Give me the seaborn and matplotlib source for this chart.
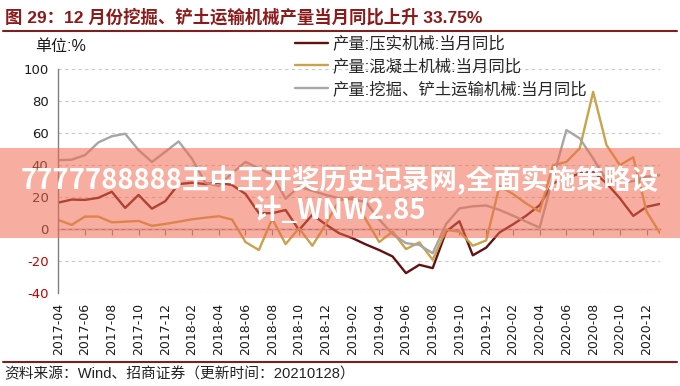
import numpy as np
import pandas as pd
import matplotlib
matplotlib.use("Agg")
import matplotlib.pyplot as plt
from matplotlib.patches import Rectangle
from matplotlib.lines import Line2D
import seaborn as sns

# ---------------- data ----------------
series_names = ["产量:压实机械:当月同比", "产量:混凝土机械:当月同比", "产量:挖掘、铲土运输机械:当月同比"]

compaction = [16.6, 18.5, 18.3, 19.6, 23.4, 13.3, 21.4, 12.8, 17.5, 28.2,
              29.0, 28.2, 29.0, 27.6, 22.0, 10.0, 10.0, 12.0, -0.5, 9.0,
              3.0, -2.5, -5.6, -9.5, -13.0, -17.0, -27.4, -22.2, -24.3, -1.5,
              5.0, -16.3, -11.5, -2.0, 3.0, 8.5, 15.0, 28.7, 31.7, 34.9,
              35.9, 28.7, 19.3, 8.3, 14.0, 15.8]

concrete = [5.8, 2.7, 7.9, 7.9, 4.3, 4.7, 5.2, 2.1, 3.3, 4.7,
            6.2, 7.2, 8.1, 6.0, -8.0, -13.0, 6.5, -9.3, 0.6, -10.3,
            3.0, 18.0, 20.0, 6.0, -8.0, -1.5, -12.4, -8.2, -19.1, -0.4,
            -1.5, -10.3, -7.0, 27.0, 22.0, 16.0, 11.0, 40.0, 42.0, 50.5,
            85.7, 52.5, 40.0, 44.9, 11.0, -2.5]

excavator = [43.1, 43.4, 46.3, 54.2, 58.0, 59.6, 49.4, 42.0, 48.3, 54.8,
             44.0, 29.0, 27.0, 35.0, 42.0, 38.0, 34.0, 19.0, 26.5, 24.0,
             21.4, 19.3, 18.7, 17.0, 6.0, -3.0, -8.7, -9.8, -15.0, 3.2,
             13.0, 14.3, 14.8, 12.0, 8.5, 4.7, 1.0, 32.0, 61.9, 56.7,
             44.2, 30.7, 29.0, 30.0, 32.8, 33.75]

tick_labels = ["2017-04", "2017-06", "2017-08", "2017-10", "2017-12",
               "2018-02", "2018-04", "2018-06", "2018-08", "2018-10", "2018-12",
               "2019-02", "2019-04", "2019-06", "2019-08", "2019-10", "2019-12",
               "2020-02", "2020-04", "2020-06", "2020-08", "2020-10", "2020-12"]

y_ticks = [-40, -20, 0, 20, 40, 60, 80, 100]

title_text = "图 29：12 月份挖掘、铲土运输机械产量当月同比上升 33.75%"
source_text = "资料来源：Wind、招商证券（更新时间：20210128）"
unit_text = "单位:%"
watermark_1 = "7777788888王中王开奖历史记录网,全面实施策略设"
watermark_2 = "计_WNW2.85"

colors = {series_names[0]: "#631010",
          series_names[1]: "#C9A24C",
          series_names[2]: "#A6A6A6"}

# ---------------- frame ----------------
rows = []
for name, vals in zip(series_names, [compaction, concrete, excavator]):
    for i, v in enumerate(vals):
        rows.append({"idx": i, "value": v, "series": name})
df = pd.DataFrame(rows)

sns.set_style("white")
plt.rcParams["font.family"] = ["DejaVu Sans", "Noto Sans CJK SC"]
CJK = ["Liberation Sans", "Noto Sans CJK SC"]

W, H = 680, 386
fig = plt.figure(figsize=(W / 100, H / 100), dpi=100)
left, right, top, bottom = 58.3, 660.0, 69.0, 293.3
ax = fig.add_axes([left / W, 1 - bottom / H, (right - left) / W, (bottom - top) / H])

sns.lineplot(data=df, x="idx", y="value", hue="series", hue_order=series_names,
             palette=colors, linewidth=1.7, ax=ax, legend=True, sort=False)

n = len(compaction)
ax.set_xlim(0, n - 1)
ax.set_ylim(-40, 100)
ax.set_xlabel("")
ax.set_ylabel("")

# y axis
ax.set_yticks(y_ticks)
ax.set_yticklabels([str(t) for t in y_ticks])
ax.tick_params(axis="y", length=4, color="#808080", labelsize=9.5, pad=3, labelcolor="#1a1a1a")
for lab, t in zip(ax.get_yticklabels(), y_ticks):
    if t < 0:
        lab.set_color("#C00000")
ax.yaxis.grid(True, linestyle=(0, (3, 3)), color="#C8C8C8", linewidth=0.8)
ax.xaxis.grid(False)
for s in ["top", "right", "bottom"]:
    ax.spines[s].set_visible(False)
ax.spines["left"].set_color("#808080")
ax.spines["left"].set_linewidth(1.0)

# x labels at the bottom
xt = np.arange(0, 2 * len(tick_labels), 2)
ax.set_xticks(xt)
ax.set_xticklabels(tick_labels, rotation=90, fontsize=9, color="#1a1a1a")
ax.tick_params(axis="x", length=0, pad=7)

# zero axis line with ticks
sec = ax.secondary_xaxis(40 / 140)
sec.set_xticks(xt)
sec.tick_params(axis="x", direction="out", length=4, color="#808080",
                labelbottom=False, labeltop=False)
for sp in sec.spines.values():
    sp.set_color("#808080")
    sp.set_linewidth(1.0)

# legend
handles, labels = ax.get_legend_handles_labels()
ax.legend(handles, labels, loc="upper left", bbox_to_anchor=(295 / W, 1 - 35.5 / H),
          bbox_transform=fig.transFigure, frameon=False, prop={"family": CJK, "size": 11.8},
          handlelength=2.0, handletextpad=0.3, labelspacing=0.42, borderpad=0,
          borderaxespad=0)

# texts and rules
fig.text(5 / W, 1 - 17 / H, title_text, fontsize=12.5, fontweight="bold",
         color="#8B1A1A", va="center", ha="left", family=CJK)
fig.add_artist(Line2D([3 / W, 677 / W], [1 - 31 / H] * 2, color="#7B1F1F", lw=1.5))
fig.add_artist(Line2D([3 / W, 677 / W], [1 - 362 / H] * 2, color="#7B1F1F", lw=1.5))
fig.text(35 / W, 1 - 47 / H, unit_text, fontsize=11.5, color="#1a1a1a",
         va="center", ha="left", family=CJK)
fig.text(4 / W, 1 - 374 / H, source_text, fontsize=10.6, color="#222222",
         va="center", ha="left", family=CJK)

# watermark band
fig.add_artist(Rectangle((0, 1 - 238 / H), 1, 90 / H, transform=fig.transFigure,
                         facecolor="#F26B50", alpha=0.55, edgecolor="none", zorder=10))
fig.text(0.5, 1 - 180 / H, watermark_1, fontsize=19.8, fontweight="bold", color="white",
         ha="center", va="center", family=["Noto Sans CJK SC"], zorder=11)
fig.text(0.5, 1 - 211 / H, watermark_2, fontsize=19.8, fontweight="bold", color="white",
         ha="center", va="center", family=["Noto Sans CJK SC"], zorder=11)

fig.savefig("out.png", dpi=100)
